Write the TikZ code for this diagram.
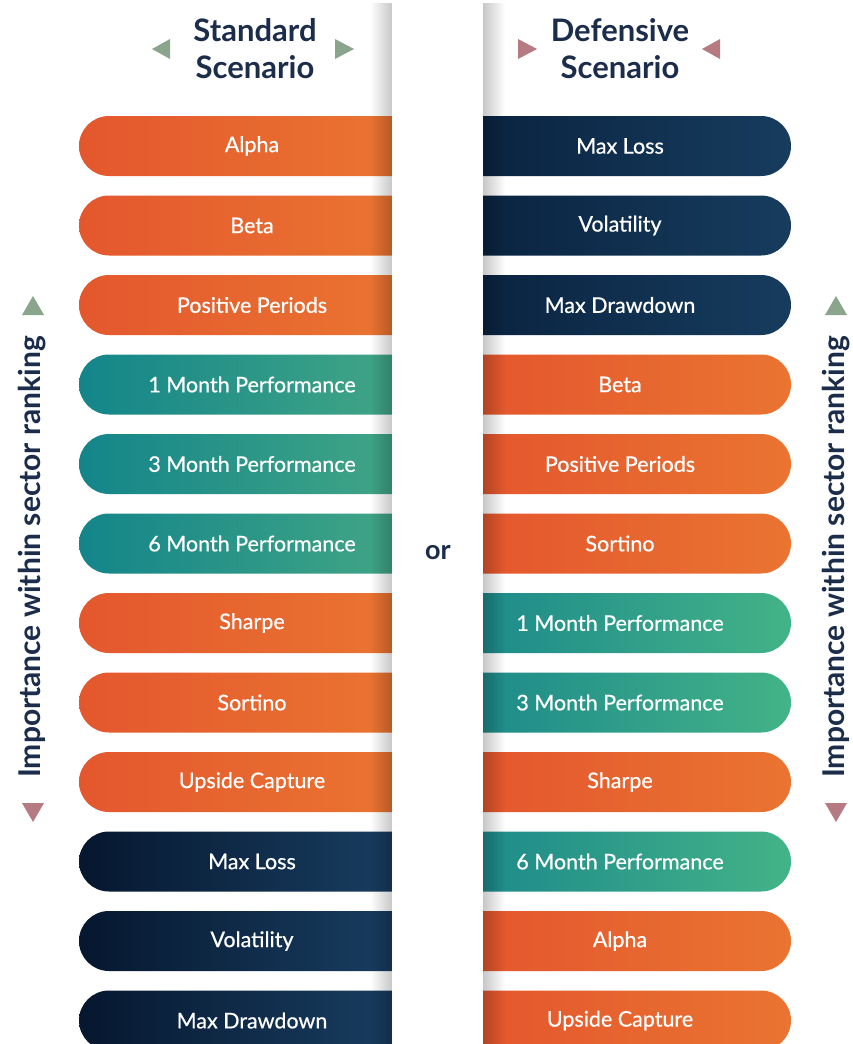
\documentclass[tikz,border=0pt]{standalone}
\usepackage{fontspec}
\setmainfont{Lato}
\newfontfamily\barfont[FakeBold=0.6]{Lato}
\usetikzlibrary{fadings}
\definecolor{ink}{HTML}{1B2D4B}
\definecolor{oL}{HTML}{E4572E}
\definecolor{oR}{HTML}{EA7431}
\definecolor{tL}{HTML}{13858A}
\definecolor{tR}{HTML}{41A585}
\definecolor{tRL}{HTML}{1E8B8A}
\definecolor{tRR}{HTML}{43B388}
\definecolor{nL}{HTML}{06172F}
\definecolor{nR}{HTML}{183D60}
\definecolor{nRL}{HTML}{0A2441}
\definecolor{nRR}{HTML}{173C5E}
\definecolor{tgreen}{HTML}{8BA58C}
\definecolor{tpink}{HTML}{B57A82}
\tikzfading[name=fadeR, left color=transparent!100, right color=transparent!0]
\tikzfading[name=fadeL, left color=transparent!0, right color=transparent!100]
\tikzset{
  bartext/.style={text=white, font=\barfont\fontsize{21.5}{24}\selectfont, inner sep=0pt},
  head/.style={text=ink, font=\fontsize{31}{37}\selectfont\bfseries, align=center, inner sep=0pt},
  sidetext/.style={text=ink, font=\fontsize{30}{32}\selectfont\bfseries, inner sep=0pt, rotate=90},
}
\newcommand\lbar[5]{%
  \path[left color=#3, right color=#4] (392,#2-30) -- (109,#2-30) arc[start angle=270,end angle=90,radius=30] -- (392,#2+30) -- cycle;
  \node[bartext] (#1) at (252,#2) {#5};}
\newcommand\rbar[5]{%
  \path[left color=#3, right color=#4] (483,#2-30) -- (761,#2-30) arc[start angle=270,end angle=450,radius=30] -- (483,#2+30) -- cycle;
  \node[bartext] (#1) at (620,#2) {#5};}
\begin{document}
\begin{tikzpicture}[x=1pt,y=-1pt]
\useasboundingbox (0,0) rectangle (853,1044);
\fill[white] (0,0) rectangle (853,1044);
% left column
\lbar{l1}{146}{oL}{oR}{Alpha}
\lbar{l2}{225.5}{oL}{oR}{Beta}
\lbar{l3}{305}{oL}{oR}{Positive Periods}
\lbar{l4}{384.5}{tL}{tR}{1 Month Performance}
\lbar{l5}{464}{tL}{tR}{3 Month Performance}
\lbar{l6}{543.5}{tL}{tR}{6 Month Performance}
\lbar{l7}{623}{oL}{oR}{Sharpe}
\lbar{l8}{702.5}{oL}{oR}{Sortino}
\lbar{l9}{782}{oL}{oR}{Upside Capture}
\lbar{l10}{861.5}{nL}{nR}{Max Loss}
\lbar{l11}{941}{nL}{nR}{Volatility}
\lbar{l12}{1020.5}{nL}{nR}{Max Drawdown}
% right column
\rbar{r1}{146}{nRL}{nRR}{Max Loss}
\rbar{r2}{225.5}{nRL}{nRR}{Volatility}
\rbar{r3}{305}{nRL}{nRR}{Max Drawdown}
\rbar{r4}{384.5}{oL}{oR}{Beta}
\rbar{r5}{464}{oL}{oR}{Positive Periods}
\rbar{r6}{543.5}{oL}{oR}{Sortino}
\rbar{r7}{623}{tRL}{tRR}{1 Month Performance}
\rbar{r8}{702.5}{tRL}{tRR}{3 Month Performance}
\rbar{r9}{782}{oL}{oR}{Sharpe}
\rbar{r10}{861.5}{tRL}{tRR}{6 Month Performance}
\rbar{r11}{941}{oL}{oR}{Alpha}
\rbar{r12}{1020.5}{oL}{oR}{Upside Capture}
% central panel with shadow
\fill[black, opacity=0.22, path fading=fadeR] (370,0) rectangle (392,1044);
\fill[black, opacity=0.22, path fading=fadeL] (483,0) rectangle (505,1044);
\fill[white] (392,0) rectangle (483,1044);
\node[text=ink, font=\fontsize{27}{30}\selectfont\bfseries, inner sep=0pt] (or) at (438,553) {or};
% headers
\node[head] (std) at (255,49) {Standard\\Scenario};
\node[head] (def) at (620,49) {Defensive\\Scenario};
\fill[tgreen] (152,49) -- (170,39) -- (170,59) -- cycle;
\fill[tgreen] (354,49) -- (335,39) -- (335,59) -- cycle;
\fill[tpink] (537,49) -- (518,39) -- (518,59) -- cycle;
\fill[tpink] (702,49) -- (720,39) -- (720,59) -- cycle;
% side labels
\node[sidetext] (lside) at (32,557) {Importance within sector ranking};
\node[sidetext] (rside) at (836,557) {Importance within sector ranking};
\fill[tgreen] (33,296) -- (22,315) -- (44,315) -- cycle;
\fill[tpink] (33,822) -- (22,803) -- (44,803) -- cycle;
\fill[tgreen] (836,296) -- (825,315) -- (847,315) -- cycle;
\fill[tpink] (836,822) -- (825,803) -- (847,803) -- cycle;
\end{tikzpicture}
\end{document}
